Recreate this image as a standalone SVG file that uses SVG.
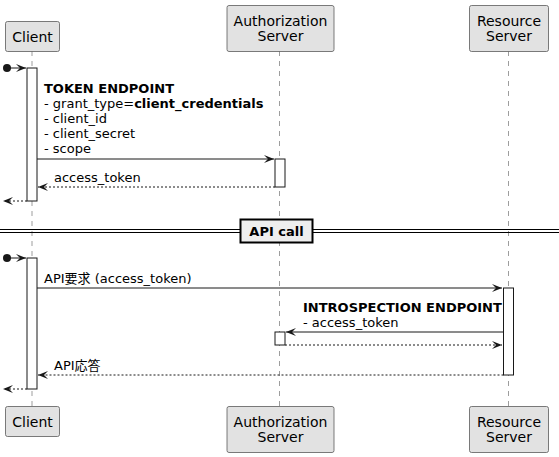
<svg xmlns="http://www.w3.org/2000/svg" width="559" height="457" viewBox="0 0 559 457">
<defs>
<style>
.p rect{fill:#E2E2E2;stroke:#5A5A5A;stroke-width:0.8}
.p text{font-family:"DejaVu Sans","Noto Sans CJK JP",sans-serif;font-size:14px;fill:#000;text-anchor:middle}
.life{stroke:#5A5A5A;stroke-width:0.6;stroke-dasharray:5,5}
.act{fill:#fff;stroke:#181818;stroke-width:1}
.m{stroke:#181818;stroke-width:1;fill:none}
.d{stroke-dasharray:2,2}
.t{font-family:"DejaVu Sans","Noto Sans CJK JP",sans-serif;font-size:13px;fill:#000}
.b{font-weight:bold}
</style>
<marker id="ah" viewBox="0 0 10 8" markerWidth="10" markerHeight="8" refX="10" refY="4" orient="auto" markerUnits="userSpaceOnUse">
<path d="M0,0 L10,4 L0,8 L4,4 Z" fill="#181818"/>
</marker>
</defs>
<rect width="559" height="457" fill="#fff"/>
<g id="lifelines">
<line class="life" x1="32" y1="51" x2="32" y2="407"/>
<line class="life" x1="279.5" y1="51" x2="279.5" y2="407"/>
<line class="life" x1="508.5" y1="51" x2="508.5" y2="407"/>
</g>
<g id="client" class="p">
<rect x="5.5" y="21.5" width="54" height="30" rx="2"/>
<text x="32.5" y="41.5">Client</text>
<rect x="5.5" y="406.5" width="54" height="30" rx="2"/>
<text x="32.5" y="426.5">Client</text>
</g>
<g id="auth" class="p">
<rect x="227" y="5.5" width="107" height="46" rx="2"/>
<text x="280.5" y="25.5">Authorization</text>
<text x="280.5" y="41">Server</text>
<rect x="227" y="406.5" width="107" height="46" rx="2"/>
<text x="280.5" y="426.5">Authorization</text>
<text x="280.5" y="442">Server</text>
</g>
<g id="resource" class="p">
<rect x="469.5" y="5.5" width="79" height="46" rx="2"/>
<text x="509" y="25.5">Resource</text>
<text x="509" y="41">Server</text>
<rect x="469.5" y="406.5" width="79" height="46" rx="2"/>
<text x="509" y="426.5">Resource</text>
<text x="509" y="442">Server</text>
</g>
<g id="activations">
<rect class="act" x="27" y="68" width="10" height="133"/>
<rect class="act" x="275" y="159" width="10" height="28"/>
<rect class="act" x="27" y="258" width="10" height="131"/>
<rect class="act" x="503.5" y="288" width="10" height="87"/>
<rect class="act" x="275" y="332" width="10" height="13"/>
</g>
<g id="divider">
<line x1="0" y1="229.5" x2="559" y2="229.5" stroke="#000" stroke-width="1"/>
<line x1="0" y1="232.5" x2="559" y2="232.5" stroke="#000" stroke-width="1"/>
<rect x="240.5" y="219.5" width="72" height="23" fill="#EEEEEE" stroke="#000" stroke-width="2"/>
<text class="t b" x="276.5" y="236" text-anchor="middle">API call</text>
</g>
<g id="connectors">
<circle cx="7" cy="68" r="4" fill="#181818"/>
<line class="m" x1="7" y1="68" x2="26" y2="68" marker-end="url(#ah)"/>
<line class="m" x1="37" y1="159" x2="274" y2="159" marker-end="url(#ah)"/>
<line class="m d" x1="275" y1="187" x2="38" y2="187" marker-end="url(#ah)"/>
<line class="m d" x1="27" y1="201" x2="3" y2="201" marker-end="url(#ah)"/>
<circle cx="7" cy="258" r="4" fill="#181818"/>
<line class="m" x1="7" y1="258" x2="26" y2="258" marker-end="url(#ah)"/>
<line class="m" x1="37" y1="288" x2="502" y2="288" marker-end="url(#ah)"/>
<line class="m" x1="503.5" y1="332" x2="286" y2="332" marker-end="url(#ah)"/>
<line class="m d" x1="285" y1="345" x2="502" y2="345" marker-end="url(#ah)"/>
<line class="m d" x1="503.5" y1="375" x2="38" y2="375" marker-end="url(#ah)"/>
<line class="m d" x1="27" y1="389" x2="3" y2="389" marker-end="url(#ah)"/>
</g>
<g id="labels">
<text class="t b" x="44" y="93">TOKEN ENDPOINT</text>
<text class="t" x="44" y="108">- grant_type=<tspan class="b">client_credentials</tspan></text>
<text class="t" x="44" y="123">- client_id</text>
<text class="t" x="44" y="138">- client_secret</text>
<text class="t" x="44" y="153">- scope</text>
<text class="t" x="54" y="182">access_token</text>
<text class="t" x="44" y="283">API要求 (access_token)</text>
<text class="t b" x="303" y="312">INTROSPECTION ENDPOINT</text>
<text class="t" x="303" y="327">- access_token</text>
<text class="t" x="54" y="370">API応答</text>
</g>
</svg>
